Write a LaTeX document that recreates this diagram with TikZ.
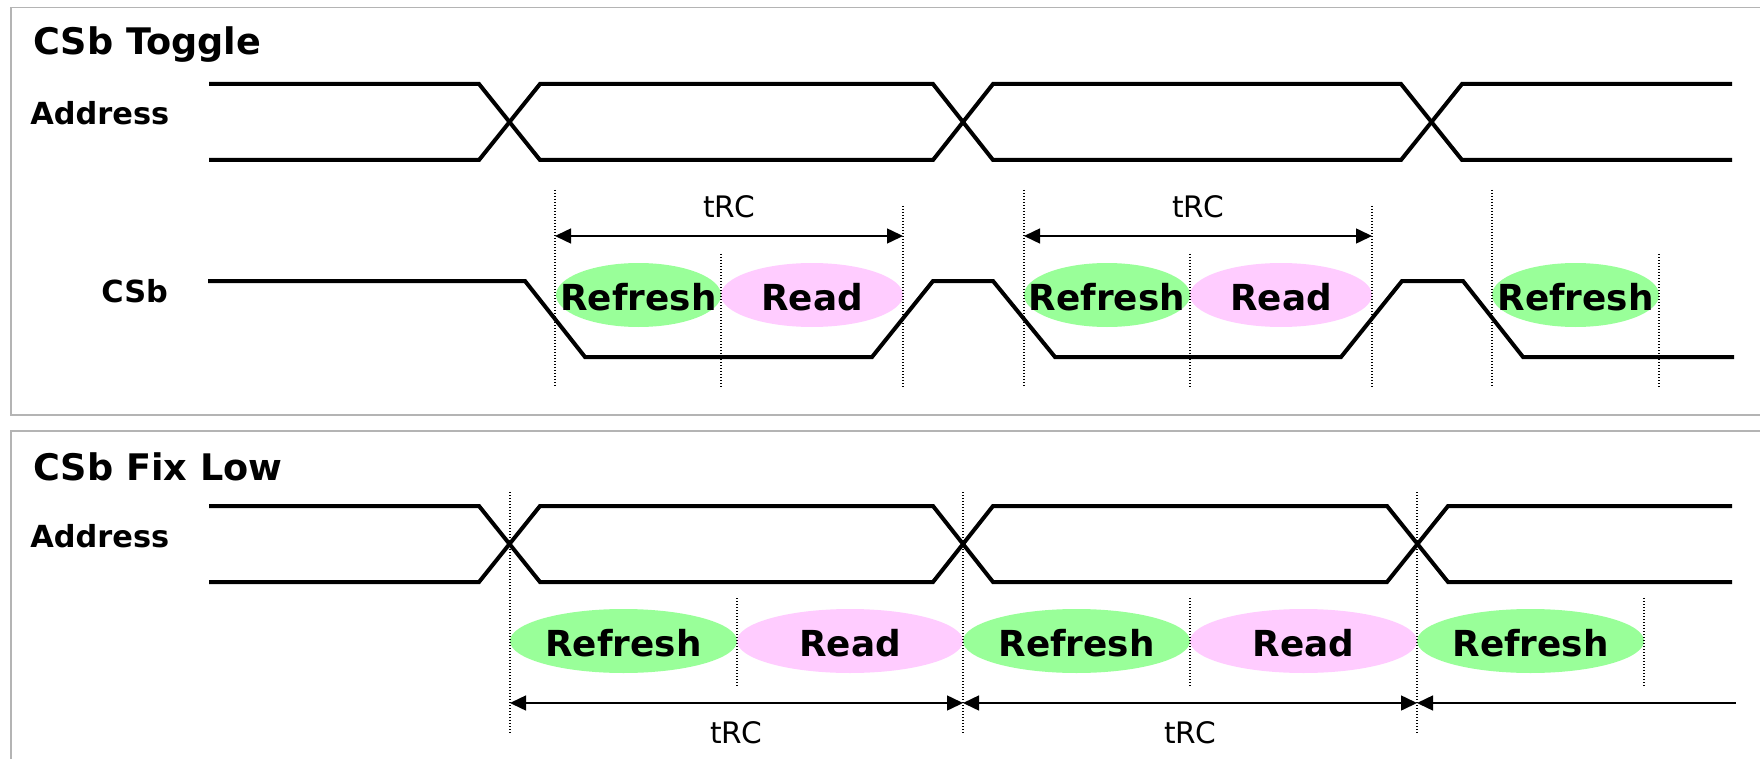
\documentclass[tikz,border=0pt]{standalone}
\usepackage{fontspec}
\setmainfont{DejaVu Sans}
\usetikzlibrary{arrows.meta}
\definecolor{refreshgreen}{HTML}{99FF99}
\definecolor{readpink}{HTML}{FFCCFF}
\definecolor{framegray}{HTML}{B4B4B4}
\begin{document}
\begin{tikzpicture}[x=0.5pt,y=-0.5pt,
  panelframe/.style={draw=framegray,line width=0.9pt},
  sigline/.style={line width=2pt,line cap=butt,line join=miter},
  guideline/.style={line width=0.7pt,dash pattern=on 0.7pt off 0.8pt},
  tip/.style={Triangle[length=8pt,width=7.5pt]},
  trcspan/.style={line width=0.75pt,{Triangle[length=8pt,width=7.5pt]}-{Triangle[length=8pt,width=7.5pt]}},
  trcleft/.style={line width=0.75pt,{Triangle[length=8pt,width=7.5pt]}-},
  title/.style={anchor=base west,inner sep=0,font=\bfseries\fontsize{18.3}{22}\selectfont},
  signame/.style={anchor=base west,inner sep=0,font=\bfseries\fontsize{15.2}{18}\selectfont},
  phase/.style={inner sep=0,font=\bfseries\fontsize{17.9}{21}\selectfont},
  trc/.style={anchor=base,inner sep=0,font=\fontsize{14.8}{18}\selectfont},
]
\useasboundingbox (0,0) rectangle (1760,759);

% panel frames (open on the right / bottom edge)
\draw[panelframe] (1765,7.5) -- (11,7.5) -- (11,415) -- (1765,415);
\draw[panelframe] (1765,431) -- (11,431) -- (11,765);

% ---------- CSb Toggle ----------
\node[title] (ttl1) at (33,55) {CSb Toggle};
\node[signame] (addr1) at (30,125) {Address};
\node[signame] (csb1) at (101,302) {CSb};

% phase bubbles
\fill[refreshgreen] (638.5,295) ellipse [x radius=41.25pt,y radius=16pt];
\fill[readpink]     (812,295)   ellipse [x radius=45.5pt,y radius=16pt];
\fill[refreshgreen] (1107,295)  ellipse [x radius=41.5pt,y radius=16pt];
\fill[readpink]     (1281,295)  ellipse [x radius=45.5pt,y radius=16pt];
\fill[refreshgreen] (1575.5,295) ellipse [x radius=41.75pt,y radius=16pt];

% guide lines
\draw[guideline] (555,190) -- (555,387);
\draw[guideline] (721,254) -- (721,387);
\draw[guideline] (903,206) -- (903,387);
\draw[guideline] (1024,190) -- (1024,387);
\draw[guideline] (1190,254) -- (1190,387);
\draw[guideline] (1372,206) -- (1372,387);
\draw[guideline] (1492,190) -- (1492,387);
\draw[guideline] (1659,254) -- (1659,387);

% address bus
\draw[sigline] (209,84) -- (479,84) -- (540,160) -- (933,160) -- (993,84) -- (1401,84) -- (1462,160) -- (1732,160);
\draw[sigline] (209,160) -- (479,160) -- (540,84) -- (933,84) -- (993,160) -- (1401,160) -- (1462,84) -- (1732,84);

% chip select
\draw[sigline] (208,281) -- (525,281) -- (585,357) -- (872,357) -- (933,281) -- (993,281) -- (1055,357)
  -- (1341,357) -- (1402,281) -- (1463,281) -- (1523,357) -- (1734,357);

% cycle time
\coordinate (a1s) at (555,236);
\coordinate (a1e) at (903,236);
\coordinate (a2s) at (1024,236);
\coordinate (a2e) at (1372,236);
\draw[trcspan] (a1s) -- (a1e);
\draw[trcspan] (a2s) -- (a2e);
\node[trc] (trc1) at (729,218) {tRC};
\node[trc] (trc2) at (1198,218) {tRC};

\node[phase] (ref1) at (638.5,297) {Refresh};
\node[phase] (rd1)  at (812,297)   {Read};
\node[phase] (ref2) at (1107,297)  {Refresh};
\node[phase] (rd2)  at (1281,297)  {Read};
\node[phase] (ref3) at (1575.5,297) {Refresh};

% ---------- CSb Fix Low ----------
\node[title] (ttl2) at (33,480) {CSb Fix Low};
\node[signame] (addr2) at (30,547) {Address};

\fill[refreshgreen] (623.5,641)  ellipse [x radius=56.75pt,y radius=16pt];
\fill[readpink]     (850,641)    ellipse [x radius=56.5pt,y radius=16pt];
\fill[refreshgreen] (1076.5,641) ellipse [x radius=56.75pt,y radius=16pt];
\fill[readpink]     (1303.5,641) ellipse [x radius=56.75pt,y radius=16pt];
\fill[refreshgreen] (1530.5,641) ellipse [x radius=56.75pt,y radius=16pt];

\draw[guideline] (510,492) -- (510,733);
\draw[guideline] (737,598) -- (737,687);
\draw[guideline] (963,492) -- (963,733);
\draw[guideline] (1190,598) -- (1190,687);
\draw[guideline] (1417,492) -- (1417,733);
\draw[guideline] (1644,598) -- (1644,687);

\draw[sigline] (209,506) -- (479,506) -- (540,582) -- (933,582) -- (993,506) -- (1387,506) -- (1448,582) -- (1732,582);
\draw[sigline] (209,582) -- (479,582) -- (540,506) -- (933,506) -- (993,582) -- (1387,582) -- (1448,506) -- (1732,506);

\coordinate (b1) at (510,703);
\coordinate (b2) at (963,703);
\coordinate (b3) at (1417,703);
\coordinate (b4) at (1736,703);
\draw[trcspan] (b1) -- (b2);
\draw[trcspan] (b2) -- (b3);
\draw[trcleft] (b3) -- (b4);
\node[trc] (trc3) at (736,743) {tRC};
\node[trc] (trc4) at (1190,743) {tRC};

\node[phase] (ref4) at (623.5,643)  {Refresh};
\node[phase] (rd3)  at (850,643)    {Read};
\node[phase] (ref5) at (1076.5,643) {Refresh};
\node[phase] (rd4)  at (1303.5,643) {Read};
\node[phase] (ref6) at (1530.5,643) {Refresh};
\end{tikzpicture}
\end{document}
